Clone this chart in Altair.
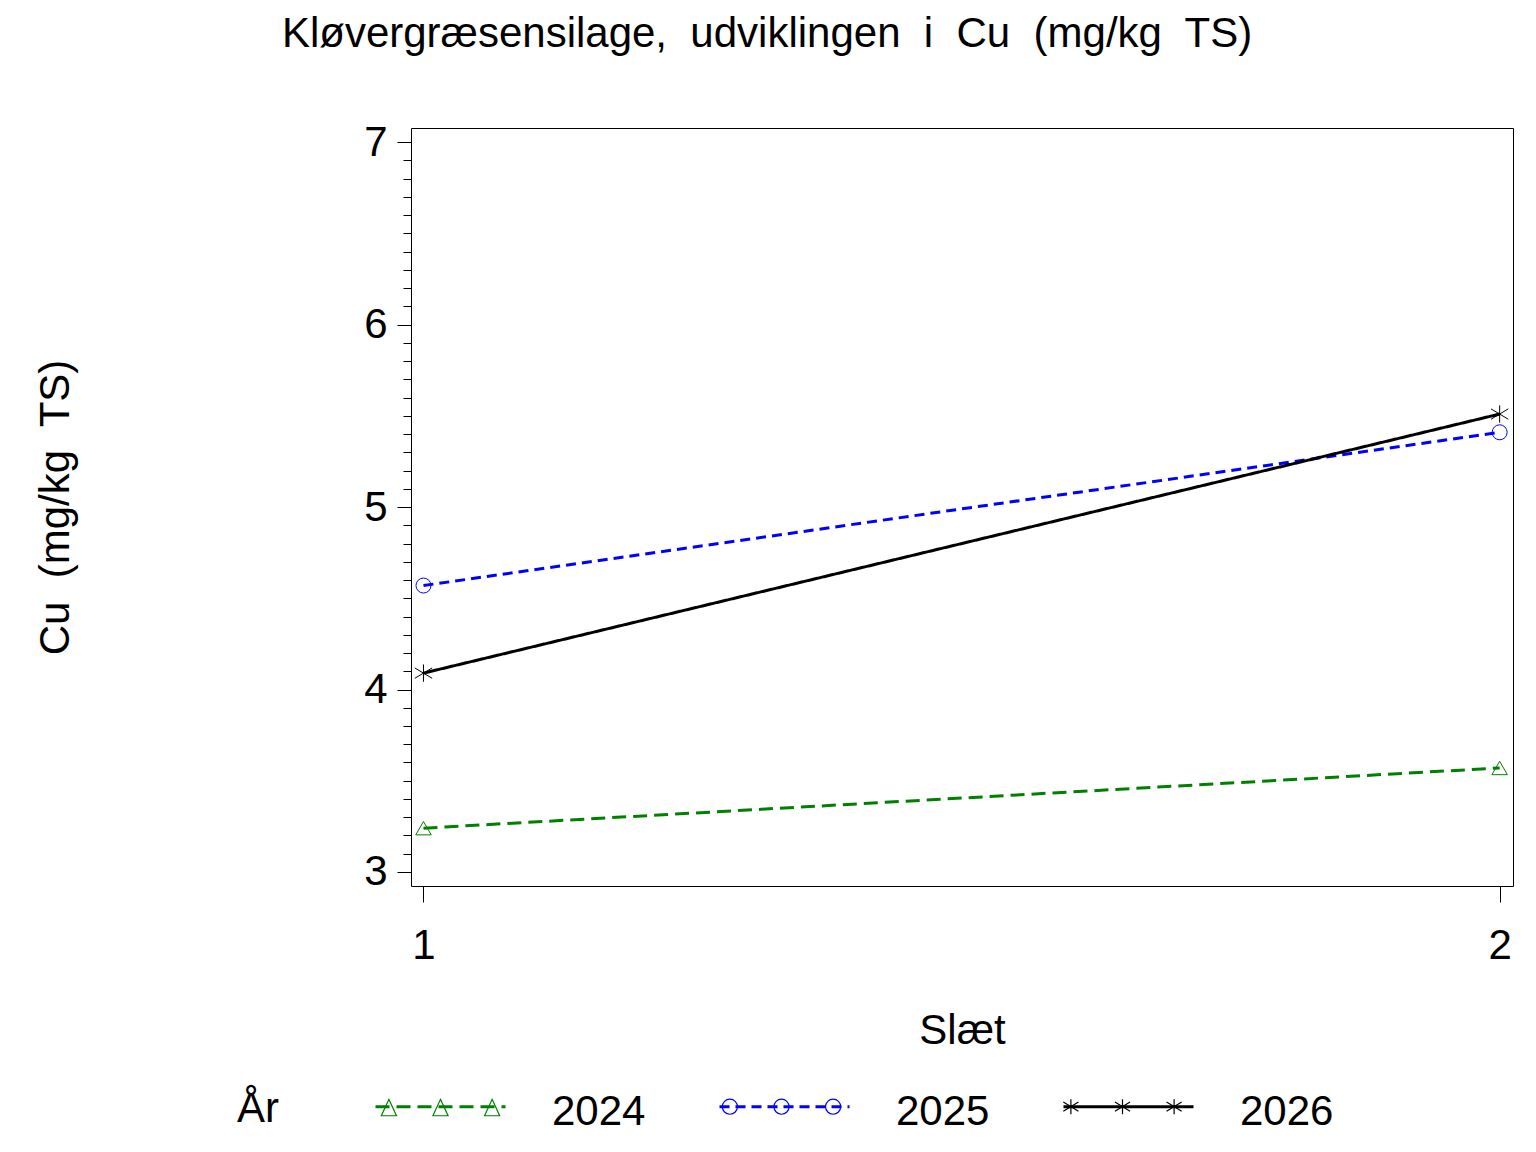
import altair as alt
import pandas as pd

# ---- data ----
slaet = [1, 2]
years = ["2024", "2025", "2026"]
cu_2024 = [3.24, 3.57]
cu_2025 = [4.57, 5.41]
cu_2026 = [4.09, 5.51]
y_major = [3, 4, 5, 6, 7]
y_minor = [round(3 + i / 10, 1) for i in range(41) if i % 10 != 0]
x_ticks = [1, 2]

rows = []
for yr, vals in zip(years, [cu_2024, cu_2025, cu_2026]):
    for s, v in zip(slaet, vals):
        rows.append({"Slæt": s, "Cu": v, "År": yr})
df = pd.DataFrame(rows)

FONT = "Liberation Sans"
FS = 42
NB = "\u00a0 "
colors = ["#008000", "#0000ff", "#000000"]
dashes = [[14, 7], [10, 6], [1, 0]]
YO = -0.077  # raise legend symbols within their box
M = 0.115    # legend marker half size (symbol units)

LINE_SW, MARK_SW = 3, 1.2
LINE_SIZE = 16900                      # sqrt = 130 px symbol
MARK_SIZE = 131.5 ** 2                 # same ceil(sqrt(size)+strokeWidth)


def tri(cx):
    return (f"M{cx:.3f},{YO-0.112:.3f}L{cx+M:.3f},{YO+0.138:.3f}"
            f"L{cx-M:.3f},{YO+0.138:.3f}Z")


def circ(cx):
    return (f"M{cx+M:.3f},{YO}A{M},{M} 0 1,1 {cx-M:.3f},{YO}"
            f"A{M},{M} 0 1,1 {cx+M:.3f},{YO}")


def star(cx):
    return (f"M{cx-M:.3f},{YO-0.07:.3f}L{cx+M:.3f},{YO+0.07:.3f}"
            f"M{cx-M:.3f},{YO+0.07:.3f}L{cx+M:.3f},{YO-0.07:.3f}"
            f"M{cx:.3f},{YO-M:.3f}L{cx:.3f},{YO+M:.3f}")


def markers(fn):
    return (f"M-1,{YO}" + "".join(fn(c) for c in (-0.785, 0, 0.785)) +
            f"M1,{YO}")


legend_marker_paths = [markers(tri), markers(circ), markers(star)]
legend_line_path = f"M-1,{YO}L1,{YO}"
asterisk = "M-1,-0.6L1,0.6M-1,0.6L1,-0.6M0,-1L0,1"

xs = alt.Scale(domain=[0.9884, 2.0124], nice=False, zero=False)
ys = alt.Scale(domain=[2.923, 7.078], nice=False, zero=False)
cs = alt.Scale(range=colors)                 # data-driven domain (line legend)
ds = alt.Scale(range=dashes)
ss = alt.Scale(domain=years, range=colors)   # explicit domain (marker legend)

x_axis = alt.Axis(values=x_ticks, format="d", tickSize=16, labelPadding=56,
                  labelBaseline="alphabetic", labelFontSize=FS, labelFont=FONT,
                  title="Slæt", titleFontSize=FS, titleFont=FONT,
                  titleFontWeight="normal", titleBaseline="alphabetic",
                  titleY=157, domain=False, grid=False, tickColor="black",
                  labelColor="black", titleColor="black")

y_axis = alt.Axis(values=y_major, tickSize=14, labelPadding=10,
                  labelFontSize=FS, labelFont=FONT,
                  title="Cu" + NB + "(mg/kg" + NB + "TS)",
                  titleFontSize=FS, titleFont=FONT, titleFontWeight="normal",
                  titleAngle=-90, titleX=-334, titleY=379, titleAlign="center",
                  titleBaseline="bottom", domain=False, grid=False,
                  tickColor="black", labelColor="black", titleColor="black",
                  orient="left")

y_minor_axis = alt.Axis(values=y_minor, tickSize=8, labels=False, title=None,
                        domain=False, grid=False, tickColor="black",
                        orient="left")

common_legend = dict(
    title="År", orient="none", legendX=-174, legendY=917,
    direction="horizontal", titleOrient="left", titleAnchor="middle",
    titleBaseline="top", titleFontSize=FS, titleFont=FONT,
    titleFontWeight="normal", titlePadding=95, labelFontSize=FS,
    labelFont=FONT, labelOffset=45, columnPadding=67,
)

legend_lines = alt.Legend(symbolType=legend_line_path, symbolStrokeWidth=LINE_SW,
                          symbolSize=LINE_SIZE, labelColor="black",
                          titleColor="black", **common_legend)
legend_marks = alt.Legend(symbolStrokeWidth=MARK_SW, symbolSize=MARK_SIZE,
                          labelOpacity=0, titleOpacity=0, **common_legend)

base = alt.Chart(df)
X = alt.X("Slæt:Q", scale=xs, axis=x_axis)
S = alt.Stroke("År:N", scale=ss, legend=legend_marks)

lines = base.mark_line(strokeWidth=LINE_SW).encode(
    x=X,
    y=alt.Y("Cu:Q", scale=ys, axis=y_axis),
    color=alt.Color("År:N", scale=cs, legend=legend_lines),
    strokeDash=alt.StrokeDash("År:N", scale=ds, legend=legend_lines),
    detail="År:N",
)

shapes = ["triangle-up", "circle", asterisk]
sizes = [240, 225, 300]
point_layers = []
for yr, shp, sz in zip(years, shapes, sizes):
    point_layers.append(
        base.transform_filter(alt.datum["År"] == yr)
        .mark_point(shape=shp, size=sz, filled=False, strokeWidth=1, opacity=1)
        .encode(
            x=X,
            y=alt.Y("Cu:Q", scale=ys, axis=None),
            stroke=S,
        )
    )

legend_layer = base.transform_filter("false").mark_point(
    filled=False, size=MARK_SIZE, strokeWidth=MARK_SW, opacity=1
).encode(
    x=X,
    y=alt.Y("Cu:Q", scale=ys, axis=y_minor_axis),
    stroke=S,
    shape=alt.Shape("År:N",
                    scale=alt.Scale(domain=years, range=legend_marker_paths),
                    legend=legend_marks),
)

title_text = ("Kløvergræsensilage," + NB + "udviklingen" + NB + "i" + NB +
              "Cu" + NB + "(mg/kg" + NB + "TS)")

chart = alt.layer(lines, *point_layers, legend_layer).resolve_axis(
    y="independent"
).properties(
    width=1102, height=758,
    title=alt.TitleParams(
        title_text, fontSize=FS, font=FONT, fontWeight="normal",
        anchor="middle", dx=-195, offset=32, baseline="alphabetic",
        color="black",
    ),
    autosize=alt.AutoSizeParams(type="none"),
    padding={"left": 403, "top": 120, "right": 15, "bottom": 250},
    background="white",
).configure_view(stroke="black", strokeWidth=1)

chart.save("out.html", embed_options={"renderer": "svg", "actions": False})
